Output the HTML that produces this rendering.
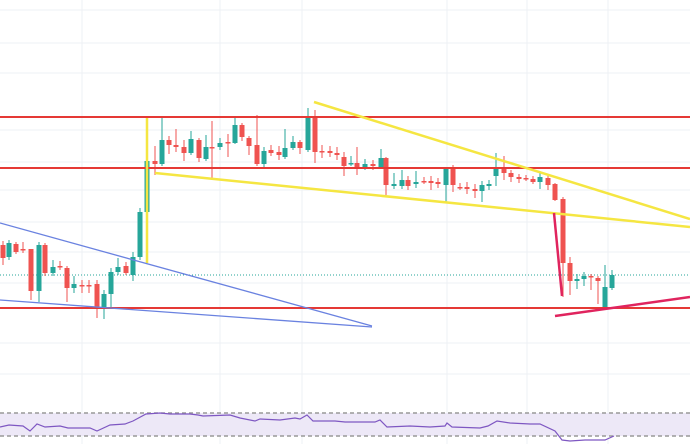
<!DOCTYPE html>
<html><head><meta charset="utf-8"><style>
html,body{margin:0;padding:0;background:#fff;width:690px;height:444px;overflow:hidden}
</style></head><body>
<svg id="s" width="690" height="444" xmlns="http://www.w3.org/2000/svg">
<g stroke="#eef0f4" stroke-width="1">
<line x1="82" y1="0" x2="82" y2="444"/><line x1="220" y1="0" x2="220" y2="444"/><line x1="302" y1="0" x2="302" y2="444"/><line x1="447" y1="0" x2="447" y2="444"/><line x1="527" y1="0" x2="527" y2="444"/><line x1="608" y1="0" x2="608" y2="444"/>
<line x1="0" y1="10" x2="690" y2="10"/><line x1="0" y1="43" x2="690" y2="43"/><line x1="0" y1="73" x2="690" y2="73"/><line x1="0" y1="130" x2="690" y2="130"/><line x1="0" y1="162" x2="690" y2="162"/><line x1="0" y1="190" x2="690" y2="190"/><line x1="0" y1="222" x2="690" y2="222"/><line x1="0" y1="252" x2="690" y2="252"/><line x1="0" y1="283" x2="690" y2="283"/><line x1="0" y1="343" x2="690" y2="343"/><line x1="0" y1="374" x2="690" y2="374"/>
</g>
<line x1="0" y1="275" x2="690" y2="275" stroke="#26a69a" stroke-width="1" stroke-dasharray="1,2"/>
<g id="c"></g>
<g stroke="#e53935" stroke-width="2">
<line x1="0" y1="117" x2="690" y2="117"/><line x1="0" y1="168" x2="690" y2="168"/><line x1="0" y1="308" x2="690" y2="308"/>
</g>
<g stroke="#f5e642" stroke-width="2.5">
<line x1="147" y1="118" x2="147" y2="263"/>
<line x1="314" y1="102" x2="690" y2="219"/>
<line x1="155" y1="173" x2="690" y2="227"/>
</g>
<g stroke="#6a82e0" stroke-width="1.3">
<line x1="0" y1="223" x2="372" y2="326"/><line x1="0" y1="300" x2="372" y2="327"/>
</g>
<g stroke="#e0245e" stroke-width="2.5">
<line x1="555" y1="316" x2="690" y2="297"/><line x1="554" y1="213" x2="562" y2="296"/>
</g>
<rect x="0" y="413" width="690" height="23" fill="#ede8f7"/>
<g stroke="#999" stroke-width="1.5" stroke-dasharray="4,3"><line x1="0" y1="413" x2="690" y2="413"/><line x1="0" y1="436" x2="690" y2="436"/></g>
<polyline fill="none" stroke="#7e57c2" stroke-width="1.2" points="0,427 9,425 23,426 30,431 37,424 45,427 60,426 68,428 90,428 97,431 110,425 125,424 133,421 146,414 160,413 170,414 190,414 198,415 203,416 230,415 240,418 255,421 260,419 280,420 295,418 300,419 307,415 313,421 335,421 345,422 375,422 380,420 387,427 410,426 430,427 445,426 447,423 452,427 480,428 488,426 497,421 510,423 530,424 540,424 555,431 562,440 570,441 585,440 605,440 614,436"/>
</svg>
<script>
var d=[[3,145,158,141,165],[9,157,143,140,160],[16,144,152,142,154],[23,149,149,142,153],[31,149,191,149,200],[39,191,145,142,202],[45,145,173,143,176],[53,173,167,160,176],[60,166,166,161,170],[67,168,188,166,202],[74,188,184,176,193],[82,185,186,180,193],[89,185,185,180,193],[97,184,208,180,218],[104,208,194,190,219],[111,194,172,168,208],[118,172,167,158,175],[126,166,173,162,175],[133,175,157,152,181],[140,157,112,108,160],[147,112,61,60,115]];
d.forEach(function(c){for(var i=1;i<5;i++)c[i]+=100;});
d=d.concat([[155,161,164,146,175],[162,164,140,118,166],[169,140,145,136,154],[176,145,147,129,152],[184,147,153,140,161],[191,153,139,131,155],[199,140,158,138,162],[206,159,147,135,161],[212,147,147,121,178],[220,147,143,138,150],[228,142,142,134,157],[235,143,125,118,144],[242,125,137,123,141],[249,138,146,136,155],[257,145,164,115,166],[264,164,151,147,167],[271,150,153,145,156],[279,152,155,146,160],[285,157,148,129,159],[293,148,142,136,150],[300,142,148,140,154],[308,150,117,108,152],[315,117,152,110,163],[322,151,152,145,158],[330,151,153,146,157],[337,153,155,147,160],[344,157,166,152,176],[351,164,163,156,166],[357,163,168,147,175],[365,167,164,159,170],[373,164,166,160,170],[381,167,158,149,168],[386,158,185,157,195],[394,186,184,173,189],[402,186,180,170,189],[408,180,186,176,190],[416,184,182,171,188],[424,181,181,177,184],[431,181,183,176,190],[438,182,184,178,188],[446,185,169,167,203],[453,169,185,165,192],[460,187,187,183,190],[467,187,189,182,194],[475,189,191,184,198],[482,191,185,181,202],[489,186,184,180,190],[496,176,168,153,186],[504,169,173,156,180],[511,173,177,170,182],[519,177,179,174,183],[526,178,178,175,181],[533,179,182,176,184],[540,182,177,171,189],[548,178,185,176,190],[555,184,200,183,201],[563,199,263,197,297],[570,263,281,257,295],[577,281,279,274,289],[584,279,276,272,286],[591,276,277,274,290],[598,278,281,276,304],[605,308,287,265,309],[612,288,275,270,290]]);
var g=document.getElementById('c'),h='';
d.forEach(function(c){var up=c[2]<c[1],col=up?'#26a69a':'#ef5350',t=Math.min(c[1],c[2]),b=Math.max(Math.abs(c[2]-c[1]),1.5);
h+='<line x1="'+c[0]+'" y1="'+c[3]+'" x2="'+c[0]+'" y2="'+c[4]+'" stroke="'+col+'" stroke-width="1"/>';
h+='<rect x="'+(c[0]-2.5)+'" y="'+t+'" width="5" height="'+b+'" fill="'+col+'"/>';});
g.innerHTML=h;
</script>
</body></html>
